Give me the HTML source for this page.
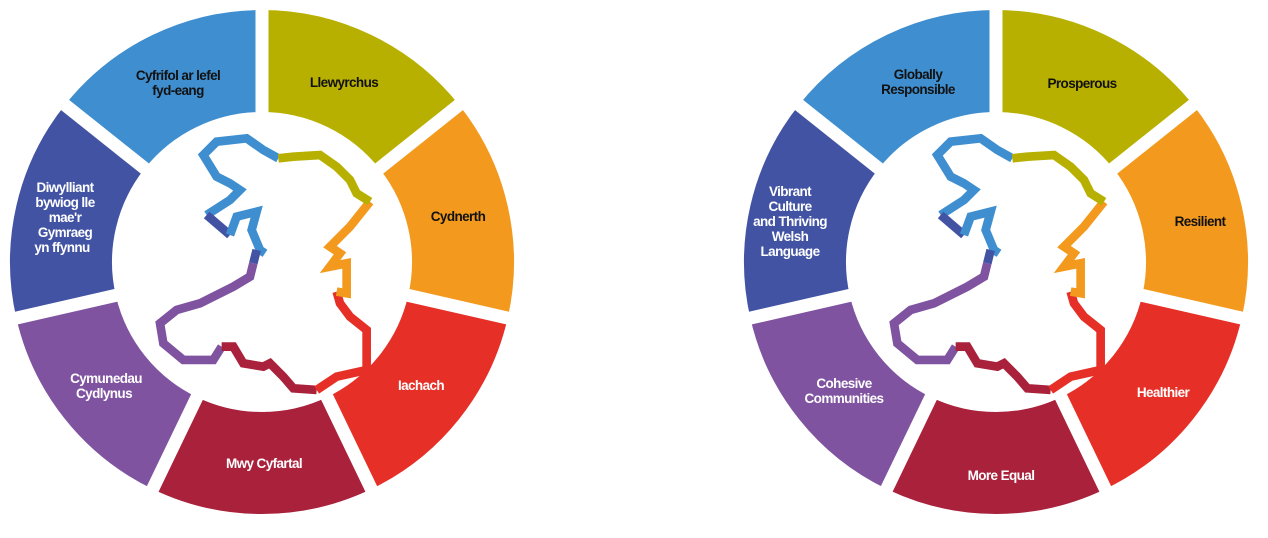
<!DOCTYPE html>
<html><head><style>
body{margin:0;background:#fff;width:1268px;height:538px;overflow:hidden}
svg{display:block}
text{font-family:"Liberation Sans Narrow","Liberation Sans",sans-serif;font-weight:bold;font-size:13.5px;letter-spacing:-0.6px;text-anchor:middle}
.k{fill:#111}.w{fill:#fff}
</style></head><body>
<svg width="1268" height="538" viewBox="0 0 1268 538">
<defs>
<g id="donut">
 <g fill="none" stroke-width="102">
  <circle cx="262" cy="262" r="201" stroke="#B8B000" stroke-dasharray="180.5 1082.4" transform="rotate(-90 262 262)"/>
  <circle cx="262" cy="262" r="201" stroke="#F39A1E" stroke-dasharray="180.5 1082.4" transform="rotate(-38.57 262 262)"/>
  <circle cx="262" cy="262" r="201" stroke="#E63027" stroke-dasharray="180.5 1082.4" transform="rotate(12.86 262 262)"/>
  <circle cx="262" cy="262" r="201" stroke="#A9213B" stroke-dasharray="180.5 1082.4" transform="rotate(64.29 262 262)"/>
  <circle cx="262" cy="262" r="201" stroke="#7F53A0" stroke-dasharray="180.5 1082.4" transform="rotate(115.71 262 262)"/>
  <circle cx="262" cy="262" r="201" stroke="#4253A4" stroke-dasharray="180.5 1082.4" transform="rotate(167.14 262 262)"/>
  <circle cx="262" cy="262" r="201" stroke="#3F8FD0" stroke-dasharray="180.5 1082.4" transform="rotate(218.57 262 262)"/>
 </g>
 <g stroke="#fff" stroke-width="13">
  <line x1="262" y1="262" x2="262" y2="0" transform="rotate(0 262 262)"/>
  <line x1="262" y1="262" x2="262" y2="0" transform="rotate(51.43 262 262)"/>
  <line x1="262" y1="262" x2="262" y2="0" transform="rotate(102.86 262 262)"/>
  <line x1="262" y1="262" x2="262" y2="0" transform="rotate(154.29 262 262)"/>
  <line x1="262" y1="262" x2="262" y2="0" transform="rotate(205.71 262 262)"/>
  <line x1="262" y1="262" x2="262" y2="0" transform="rotate(257.14 262 262)"/>
  <line x1="262" y1="262" x2="262" y2="0" transform="rotate(308.57 262 262)"/>
 </g>
 <g transform="translate(150,130) scale(0.3333)" fill="none" stroke-width="26" stroke-linejoin="miter">
  <polyline stroke="#3F8FD0" points="385,85 340,60 290,25 200,35 160,75 200,140 240,160 270,180 240,210 170,255"/>
  <polyline stroke="#4253A4" points="170,255 240,315"/>
  <polyline stroke="#3F8FD0" points="240,315 260,260 320,245 305,300 330,360 345,370"/>
  <polyline stroke="#4253A4" points="320,360 310,400"/>
  <polyline stroke="#7F53A0" points="310,400 300,440 250,470 150,520 80,540 30,580 40,640 100,690 190,690 215,650"/>
  <polyline stroke="#A9213B" points="215,650 250,650 280,700 340,710 360,700 400,740 430,775 500,780"/>
  <polyline stroke="#E63027" points="500,780 560,740 650,720 650,600 600,560 570,520 560,485"/>
  <polyline stroke="#F39A1E" points="560,485 590,490 590,400 540,410 570,370 540,350 600,290 660,215"/>
  <polyline stroke="#B8B000" points="660,215 620,190 600,150 560,110 510,75 430,80 385,85"/>
 </g>
</g>
</defs>
<use href="#donut"/>
<use href="#donut" transform="translate(734,0)"/>

<text class="k" x="178" y="80">Cyfrifol ar lefel</text>
<text class="k" x="178" y="95">fyd-eang</text>
<text class="k" x="344" y="87">Llewyrchus</text>
<text class="k" x="458" y="221">Cydnerth</text>
<text class="w" x="421" y="390">Iachach</text>
<text class="w" x="264" y="468">Mwy Cyfartal</text>
<text class="w" x="106" y="383">Cymunedau</text>
<text class="w" x="104" y="398">Cydlynus</text>
<text class="w" x="65" y="192">Diwylliant</text>
<text class="w" x="65" y="207">bywiog lle</text>
<text class="w" x="65" y="222">mae'r</text>
<text class="w" x="65" y="237">Gymraeg</text>
<text class="w" x="62" y="252">yn ffynnu</text>

<text class="k" x="918" y="79">Globally</text>
<text class="k" x="918" y="94">Responsible</text>
<text class="k" x="1082" y="88">Prosperous</text>
<text class="k" x="1200" y="226">Resilient</text>
<text class="w" x="1163" y="397">Healthier</text>
<text class="w" x="1001" y="480">More Equal</text>
<text class="w" x="844" y="388">Cohesive</text>
<text class="w" x="844" y="403">Communities</text>
<text class="w" x="790" y="196">Vibrant</text>
<text class="w" x="790" y="211">Culture</text>
<text class="w" x="790" y="226">and Thriving</text>
<text class="w" x="790" y="241">Welsh</text>
<text class="w" x="790" y="256">Language</text>
</svg>
</body></html>
